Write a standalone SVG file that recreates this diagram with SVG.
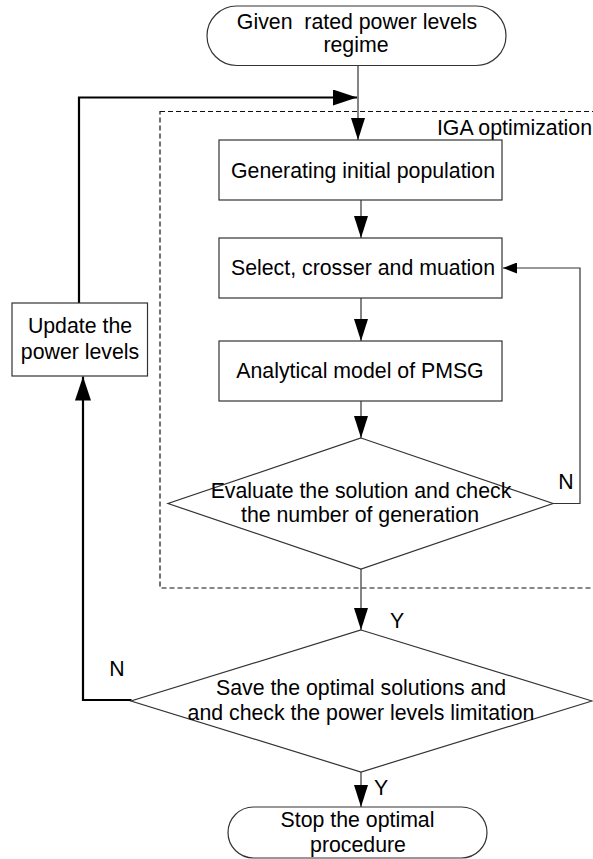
<svg xmlns="http://www.w3.org/2000/svg" width="593" height="859" viewBox="0 0 593 859">
<style>
text{font-family:"Liberation Sans",Arial,sans-serif;font-size:21.3px;fill:#000;text-anchor:middle}
.shape{fill:#fff;stroke:#333;stroke-width:1.2}
.conn{fill:none;stroke:#333;stroke-width:1.2}
.thick{fill:none;stroke:#000;stroke-width:2.2}
.dash{fill:none;stroke:#111;stroke-width:1.2;stroke-dasharray:5,3}
</style>
<defs>
<marker id="big" markerUnits="userSpaceOnUse" viewBox="0 0 24 16" markerWidth="24" markerHeight="16" refX="24" refY="8" orient="auto"><path d="M0,0 L24,8 L0,16 z" fill="#000"/></marker>
<marker id="mid" markerUnits="userSpaceOnUse" viewBox="0 0 22 14" markerWidth="22" markerHeight="14" refX="22" refY="7" orient="auto"><path d="M0,0 L22,7 L0,14 z" fill="#000"/></marker>
<marker id="small" markerUnits="userSpaceOnUse" viewBox="0 0 14 11" markerWidth="14" markerHeight="11" refX="14" refY="5.5" orient="auto"><path d="M0,0 L14,5.5 L0,11 z" fill="#000"/></marker>
</defs>

<g id="iga-frame">
<rect class="dash" x="160" y="111.5" width="445" height="476.5"/>
<text x="592" y="135" style="text-anchor:end">IGA optimization</text>
</g>

<g id="connectors">
<path class="conn" d="M358,66 V140" marker-end="url(#mid)"/>
<path class="conn" d="M361,200 V238" marker-end="url(#mid)"/>
<path class="conn" d="M361,298 V341" marker-end="url(#mid)"/>
<path class="conn" d="M361,401 V438" marker-end="url(#mid)"/>
<path class="conn" d="M361,569 V630" marker-end="url(#mid)"/>
<path class="conn" d="M361,772 V807" marker-end="url(#mid)"/>
<path class="conn" d="M553,503.5 H580 V268 H503" marker-end="url(#small)"/>
<path class="thick" d="M131.5,700 H83 V376.5" marker-end="url(#big)"/>
<path class="thick" d="M79,303 V97.5 H357" marker-end="url(#big)"/>
<text x="397" y="628">Y</text>
<text x="381" y="795">Y</text>
<text x="566" y="489">N</text>
<text x="117" y="676">N</text>
</g>

<g id="start">
<rect class="shape" x="207" y="6" width="299" height="59.5" rx="29.75"/>
<text x="357" y="28.5" xml:space="preserve" style="white-space:pre">Given  rated power levels</text>
<text x="356" y="52">regime</text>
</g>

<g id="generate">
<rect class="shape" x="219" y="140" width="283" height="60"/>
<text x="363" y="177.5">Generating initial population</text>
</g>

<g id="select">
<rect class="shape" x="219" y="238" width="283" height="60"/>
<text x="363" y="275">Select, crosser and muation</text>
</g>

<g id="model">
<rect class="shape" x="219" y="341" width="283" height="60"/>
<text x="360" y="378">Analytical model of PMSG</text>
</g>

<g id="evaluate">
<polygon class="shape" points="361,438 553,503.5 361,569 168,503.5"/>
<text x="361" y="498">Evaluate the solution and check</text>
<text x="360" y="522">the number of generation</text>
</g>

<g id="update">
<rect class="shape" x="12" y="303" width="135.5" height="73"/>
<text x="80" y="333">Update the</text>
<text x="80" y="359">power levels</text>
</g>

<g id="save">
<polygon class="shape" points="361,630 592,701 361,772 131,701"/>
<text x="361" y="695">Save the optimal solutions and</text>
<text x="361" y="720">and check the power levels limitation</text>
</g>

<g id="stop">
<rect class="shape" x="228" y="807" width="259" height="51" rx="25.5"/>
<text x="357.5" y="827">Stop the optimal</text>
<text x="358" y="852">procedure</text>
</g>
</svg>
